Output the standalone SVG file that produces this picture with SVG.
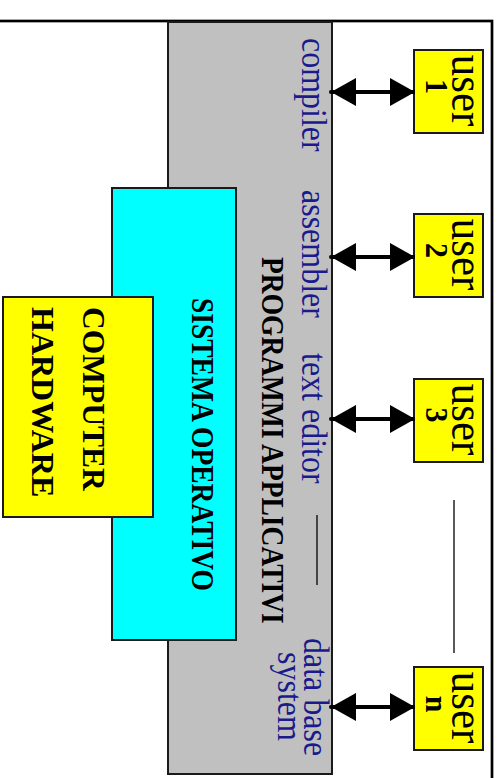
<svg xmlns="http://www.w3.org/2000/svg" width="501" height="778" viewBox="0 0 501 778">
<defs>
<style>
.box{stroke:#1a1a1a;stroke-width:2}
.blue{font-family:"Liberation Serif","Times New Roman",serif;font-size:32px;fill:#1a1a8c}
.bold{font-family:"Liberation Serif","Times New Roman",serif;font-weight:bold;fill:#000}
.usr{font-family:"Liberation Serif","Times New Roman",serif;font-size:43px;fill:#000;text-anchor:middle}
.num{font-family:"Liberation Serif","Times New Roman",serif;font-size:30px;font-weight:bold;fill:#000;text-anchor:middle}
.arr{stroke:#000;stroke-width:4;fill:none;marker-start:url(#ah);marker-end:url(#ah)}
.dash{stroke:#000;stroke-width:1.3}
</style>
<marker id="ah" viewBox="0 0 25 28" refX="25" refY="14" markerWidth="25" markerHeight="28" markerUnits="userSpaceOnUse" orient="auto-start-reverse">
<path d="M0,0 L25,14 L0,28 z" fill="#000"/>
</marker>
</defs>
<rect x="-10" y="21" width="502" height="800" fill="#fff" stroke="#000" stroke-width="2.7"/>
<g id="programmi">
<rect class="box" x="168" y="22" width="164" height="752" fill="#c0c0c0" stroke-width="1.5"/>
<text class="bold" font-size="27.5" transform="translate(262,257) scale(1.12,1) rotate(90)">PROGRAMMI APPLICATIVI</text>
<text class="blue" transform="translate(302,38) scale(1.1,1) rotate(90)">compiler</text>
<text class="blue" transform="translate(302,190) scale(1.1,1) rotate(90)">assembler</text>
<text class="blue" transform="translate(302,353) scale(1.1,1) rotate(90)">text editor</text>
<text class="blue" transform="translate(304,638) scale(1.1,1) rotate(90)">data base</text>
<text class="blue" transform="translate(278,652) scale(1.1,1) rotate(90)">system</text>
<line class="dash" x1="317" y1="515" x2="317" y2="585"/>
</g>
<g id="sistema">
<rect class="box" x="112" y="188" width="124" height="452" fill="#00ffff"/>
<text class="bold" font-size="27.5" transform="translate(192,298) scale(1.12,1) rotate(90)">SISTEMA OPERATIVO</text>
</g>
<g id="hardware">
<rect class="box" x="3" y="297" width="150" height="220" fill="#ffff00"/>
<text class="bold" font-size="31.5" transform="translate(83,307) rotate(90)">COMPUTER</text>
<text class="bold" font-size="32" transform="translate(32,307) rotate(90)">HARDWARE</text>
</g>
<g id="user1">
<rect class="box" x="414" y="50" width="69" height="83" fill="#ffff00"/>
<text class="usr" transform="translate(452,90.5) scale(1.08,1) rotate(90)">user</text>
<text class="num" transform="translate(426,86.5) scale(1.08,1) rotate(90)">1</text>
</g>
<g id="user2">
<rect class="box" x="414" y="214" width="69" height="83" fill="#ffff00"/>
<text class="usr" transform="translate(452,254.5) scale(1.08,1) rotate(90)">user</text>
<text class="num" transform="translate(426,250.5) scale(1.08,1) rotate(90)">2</text>
</g>
<g id="user3">
<rect class="box" x="414" y="379" width="69" height="83" fill="#ffff00"/>
<text class="usr" transform="translate(452,419.5) scale(1.08,1) rotate(90)">user</text>
<text class="num" transform="translate(426,415) scale(1.08,1) rotate(90)">3</text>
</g>
<g id="usern">
<rect class="box" x="414" y="667" width="69" height="83" fill="#ffff00"/>
<text class="usr" transform="translate(452,707.5) scale(1.08,1) rotate(90)">user</text>
<text class="num" transform="translate(426,704) scale(1.08,1) rotate(90)">n</text>
</g>
<g id="connectors">
<line class="arr" x1="331" y1="92" x2="415" y2="92"/>
<line class="arr" x1="331" y1="257" x2="415" y2="257"/>
<line class="arr" x1="331" y1="419" x2="415" y2="419"/>
<line class="arr" x1="331" y1="707" x2="415" y2="707"/>
<circle cx="331" cy="92" r="2"/>
<circle cx="331" cy="257" r="2"/>
<circle cx="331" cy="419" r="2"/>
<circle cx="331" cy="707" r="2"/>
<line class="dash" x1="454" y1="500" x2="454" y2="653"/>
</g>
</svg>
